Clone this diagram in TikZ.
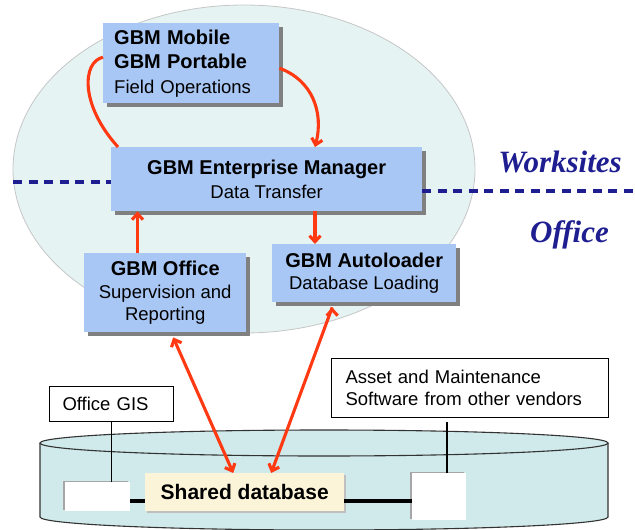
\documentclass[tikz,border=0pt]{standalone}
\usepackage{fontspec}
\setmainfont{Liberation Sans}
\newfontfamily\zoneserif{Liberation Serif}
\usetikzlibrary{arrows.meta,shadows}

\definecolor{gbmblue}{RGB}{169,199,245}
\definecolor{cloud}{RGB}{229,243,243}
\definecolor{dbcyan}{RGB}{208,233,234}
\definecolor{dbcream}{RGB}{252,244,217}
\definecolor{flowred}{RGB}{255,58,18}
\definecolor{zonenavy}{RGB}{30,30,145}

\newcommand\boxtitle[1]{{\fontsize{20}{23}\selectfont\bfseries #1}}

\begin{document}
\begin{tikzpicture}[x=1pt,y=-1pt,
    box/.style={fill=gbmblue, anchor=north west, inner sep=0pt, align=center,
      font=\fontsize{18.5}{23}\selectfont,
      drop shadow={shadow xshift=4pt,shadow yshift=-4pt,fill=black!50,opacity=1}},
    plain/.style={draw=black, fill=white, line width=1pt, anchor=north west,
      inner ysep=0pt, align=left, font=\fontsize{18.5}{22}\selectfont},
    slot/.style={fill=white, anchor=north west, inner sep=0pt,
      drop shadow={shadow xshift=-2pt,shadow yshift=1pt,fill=black!35,opacity=1}},
    flow/.style={draw=flowred, line width=3.1pt, -{Straight Barb[length=6pt,width=11pt]}},
    tie/.style={draw=black, line width=1.1pt},
    bus/.style={draw=black, line width=3.2pt},
    divider/.style={draw=zonenavy, line width=3.2pt, dash pattern=on 9pt off 6.5pt},
    zone/.style={text=zonenavy, anchor=base,
      font=\zoneserif\fontsize{31}{31}\selectfont\bfseries\itshape}]

  \useasboundingbox (0,0) rectangle (635,530);
  \clip (0,0) rectangle (635,530);

  % worksite cloud
  \draw[fill=cloud, draw=gray!45, line width=0.8pt] (244,169) ellipse [x radius=231, y radius=164];

  \coordinate (dl) at (13,182);
  \coordinate (dr) at (635,191);
  \coordinate (tx) at (315,0);
  \coordinate (ox) at (137.5,0);
  \coordinate (ax) at (447,0);
  \coordinate (hy) at (0,501);

  \node[box, minimum width=176pt, minimum height=80pt, text width=154pt, inner xsep=11pt,
        align=left, font=\fontsize{18.5}{24.5}\selectfont]
        (mobile) at (103,23) {\boxtitle{GBM Mobile}\\\boxtitle{GBM Portable}\\Field Operations};
  \node[box, minimum width=311pt, minimum height=64pt, font=\fontsize{18.5}{24.3}\selectfont]
        (em) at (111,147) {\boxtitle{GBM Enterprise Manager}\\Data Transfer};
  \node[box, minimum width=162pt, minimum height=79pt, font=\fontsize{18.5}{22.5}\selectfont]
        (office) at (84,253) {\boxtitle{GBM Office}\\Supervision and\\Reporting};
  \node[box, minimum width=184pt, minimum height=58pt, font=\fontsize{18.5}{22.7}\selectfont]
        (autoloader) at (272,244) {\boxtitle{GBM Autoloader}\\Database Loading};

  \draw[divider] (dl) -- (dl -| em.west);
  \draw[divider] (em.east |- dr) -- (dr);

  \node[zone] (worksites) at (560,172) {Worksites};
  \node[zone] (officezone) at (569.5,242) {Office};

  % shared database cylinder
  \draw[fill=dbcyan, draw=black!80, line width=1.1pt]
        (40,443) -- (40,517) arc[start angle=180, end angle=0, x radius=284, y radius=13]
        -- (608,443);
  \draw[fill=dbcyan, draw=black!80, line width=1.1pt] (324,443) ellipse [x radius=284, y radius=13];

  \node[slot, minimum width=65pt, minimum height=29pt] (gisslot) at (65,482) {};
  \node[slot, minimum width=54pt, minimum height=47pt] (assetslot) at (412,473) {};
  \node[fill=dbcream, anchor=north west, inner sep=0pt, minimum width=199pt, minimum height=38pt,
        font=\fontsize{21}{24}\selectfont\bfseries,
        drop shadow={shadow xshift=2pt,shadow yshift=-2pt,fill=black!25,opacity=1}]
        (shared) at (145,473) {Shared database};

  \node[plain, minimum width=124pt, minimum height=35pt, text width=98pt, inner xsep=13pt]
        (gis) at (49,386) {Office GIS};
  \node[plain, minimum width=277pt, minimum height=59pt, text width=249pt, inner xsep=14pt]
        (asset) at (331,358) {Asset and Maintenance\\Software from other vendors};

  \draw[tie] (gis.south) -- (gis.south |- gisslot.north);
  \draw[tie] ([yshift=-4pt]asset.south -| ax) -- (assetslot.north -| ax);
  \draw[bus] (gisslot.east |- hy) -- (shared.west |- hy)
             (shared.east |- hy) -- (assetslot.west |- hy);

  % data flows
  \draw[flow, -] ([yshift=6pt]mobile.west) .. controls (82,62) and (80,105) .. (em.north west -| 118,0);
  \draw[flow] ([yshift=-5pt]mobile.east) .. controls (312,80) and (324,112) .. (em.north -| tx);
  \path[flow]
        (office.north -| ox) edge (em.south -| ox)
        (em.south -| tx) edge (autoloader.north -| tx)
        ([xshift=8pt,yshift=-5pt]office.south) edge[{Straight Barb[length=6pt,width=11pt]}-{Straight Barb[length=6pt,width=11pt]}] ([xshift=-11.5pt]shared.north)
        ([xshift=-32pt,yshift=-5pt]autoloader.south) edge ([xshift=26.5pt]shared.north);
\end{tikzpicture}
\end{document}
